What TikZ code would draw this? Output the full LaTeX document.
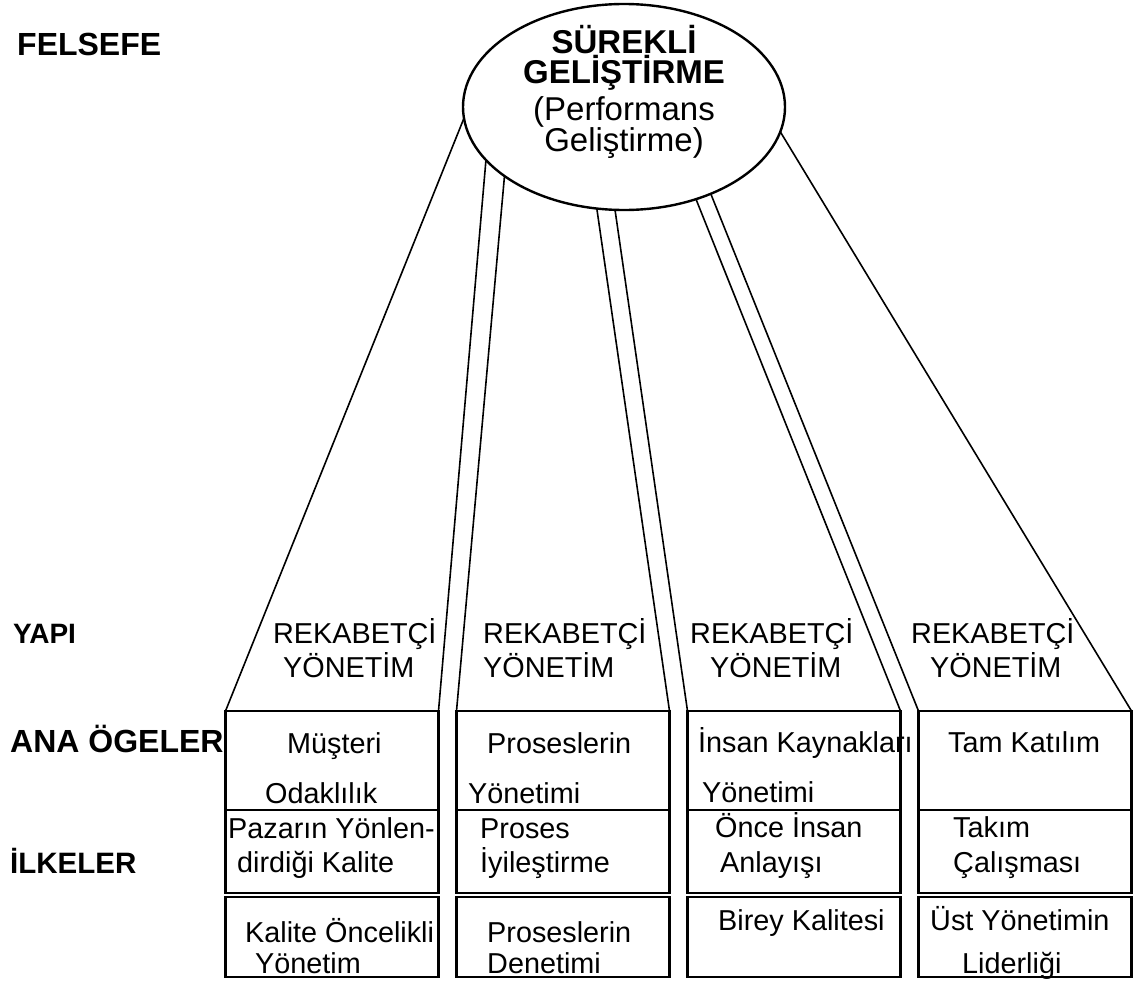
\documentclass[tikz,border=0pt]{standalone}
\usepackage{fontspec}
\setmainfont{Liberation Sans}
\usetikzlibrary{positioning, shapes.geometric}

\begin{document}
\begin{tikzpicture}[
        x = 1pt, y = -1pt,
        Goal/.style = {ellipse, draw = black, line width = 2.4pt, minimum width = 322pt, minimum height = 206pt, inner sep = 0, outer sep = 0},
        % 
        Cell/.style = {rectangle, draw = black, line width = 2.4pt, minimum width = 213pt, inner sep = 0, outer sep = 0},
        % 
        Link/.style = {line width = 1.6pt},
        % 
        Item/.style = {anchor = base west, inner sep = 0, font = \fontsize{28.8}{34}\selectfont},
        % 
        Level/.style = {anchor = base west, inner sep = 0, font = \fontsize{29.5}{36}\selectfont\bfseries},
    ]
        \useasboundingbox (0,0) rectangle (1142,980);

        % Philosophy
        \node[Goal] (Goal) at (624,107) {};
        \node[align = center, inner sep = 0, font = \fontsize{33}{30}\selectfont] (GoalText) at (624,92) {\textbf{SÜREKLİ}\\\textbf{GELİŞTİRME}\\[5pt](Performans\\Geliştirme)};

        % Levels
        \node[Level, font = \fontsize{32}{36}\selectfont\bfseries] (Felsefe) at (17,55) {FELSEFE};
        \node[Level, font = \fontsize{28}{36}\selectfont\bfseries] (Yapi) at (13,643) {YAPI};
        \node[Level, font = \fontsize{32}{36}\selectfont\bfseries] (AnaOgeler) at (10,752) {ANA ÖGELER};
        \node[Level] (Ilkeler) at (10,873) {İLKELER};

        % Columns
        \node[Cell, minimum height = 99pt] (MusteriCell) at (332,760.5) {};
        \node[Cell, minimum height = 83pt] (PazarCell) [below = 0pt of MusteriCell] {};
        \node[Cell, minimum height = 80pt] (KaliteCell) [below = 4pt of PazarCell] {};

        \node[Cell, minimum height = 99pt] (ProsesCell) [right = 18pt of MusteriCell] {};
        \node[Cell, minimum height = 83pt] (IyilesCell) [below = 0pt of ProsesCell] {};
        \node[Cell, minimum height = 80pt] (DenetimCell) [below = 4pt of IyilesCell] {};

        \node[Cell, minimum height = 99pt] (InsanCell) [right = 18pt of ProsesCell] {};
        \node[Cell, minimum height = 83pt] (AnlayisCell) [below = 0pt of InsanCell] {};
        \node[Cell, minimum height = 80pt] (BireyCell) [below = 4pt of AnlayisCell] {};

        \node[Cell, minimum height = 99pt] (KatilimCell) [right = 18pt of InsanCell] {};
        \node[Cell, minimum height = 83pt] (TakimCell) [below = 0pt of KatilimCell] {};
        \node[Cell, minimum height = 80pt] (LiderCell) [below = 4pt of TakimCell] {};

        % Structure
        \node[Item] (Rekabet1) at (273,643) {REKABETÇİ};
        \node[Item] (Yonetim1) at (283,677) {YÖNETİM};
        \node[Item] (Rekabet2) at (483,643) {REKABETÇİ};
        \node[Item] (Yonetim2) at (483,677) {YÖNETİM};
        \node[Item] (Rekabet3) at (690,643) {REKABETÇİ};
        \node[Item] (Yonetim3) at (710,677) {YÖNETİM};
        \node[Item] (Rekabet4) at (911,643) {REKABETÇİ};
        \node[Item] (Yonetim4) at (930,677) {YÖNETİM};

        % Column texts
        \node[Item] (MusteriA) at (287,753) {Müşteri};
        \node[Item] (MusteriB) at (265,803) {Odaklılık};
        \node[Item] (PazarA) at (228,838) {Pazarın Yönlen-};
        \node[Item] (PazarB) at (237,872) {dirdiği Kalite};
        \node[Item] (KaliteA) at (245,942) {Kalite Öncelikli};
        \node[Item] (KaliteB) at (255,973) {Yönetim};

        \node[Item] (ProsesA) at (487,753) {Proseslerin};
        \node[Item] (ProsesB) at (468,803) {Yönetimi};
        \node[Item] (IyilesA) at (480,838) {Proses};
        \node[Item] (IyilesB) at (480,872) {İyileştirme};
        \node[Item] (DenetimA) at (487,942) {Proseslerin};
        \node[Item] (DenetimB) at (487,973) {Denetimi};

        \node[Item] (InsanA) at (698,752) {İnsan Kaynakları};
        \node[Item] (InsanB) at (702,802) {Yönetimi};
        \node[Item] (AnlayisA) at (715,837) {Önce İnsan};
        \node[Item] (AnlayisB) at (720,872) {Anlayışı};
        \node[Item] (Birey) at (718,930) {Birey Kalitesi};

        \node[Item] (Katilim) at (948,752) {Tam Katılım};
        \node[Item] (TakimA) at (953,837) {Takım};
        \node[Item] (TakimB) at (953,872) {Çalışması};
        \node[Item] (LiderA) at (930,930) {Üst Yönetimin};
        \node[Item] (LiderB) at (962,973) {Liderliği};

        % Links
        \draw[Link] (Goal.184) -- (MusteriCell.north west);
        \draw[Link] (Goal.201) -- (MusteriCell.north east);
        \draw[Link] (Goal.210) -- (ProsesCell.north west);
        \draw[Link] (Goal.255) -- (ProsesCell.north east);
        \draw[Link] (Goal.265) -- (InsanCell.north west);
        \draw[Link] (Goal.308) -- (InsanCell.north east);
        \draw[Link] (Goal.315) -- (KatilimCell.north west);
        \draw[Link] (Goal.351) -- (KatilimCell.north east);

    \end{tikzpicture}
\end{document}
